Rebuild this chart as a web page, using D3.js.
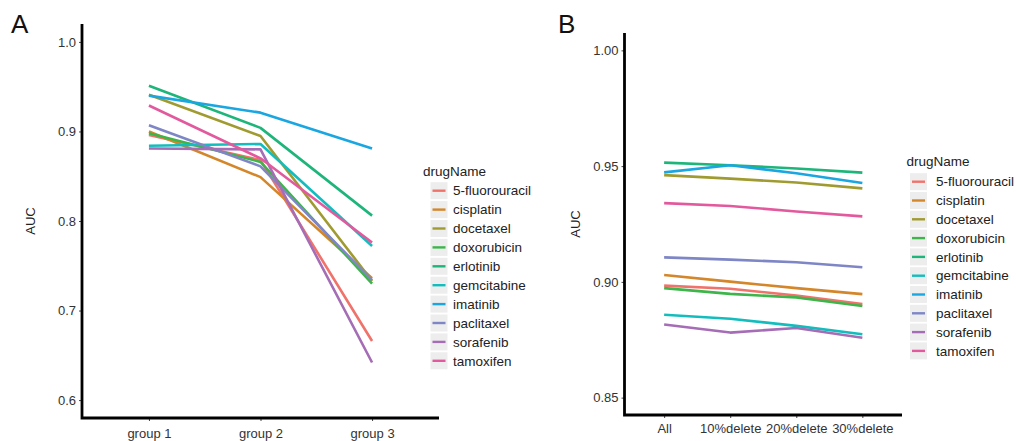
<!DOCTYPE html>
<html>
<head>
<meta charset="utf-8">
<script src="https://cdn.jsdelivr.net/npm/d3@7"></script>
<style>
  body { margin: 0; background: #fff; }
  text { font-family: "Liberation Sans", Arial, sans-serif; fill: #222; }
</style>
</head>
<body>
<div id="chart"></div>
<script>
const drugs = ["5-fluorouracil", "cisplatin", "docetaxel", "doxorubicin", "erlotinib",
  "gemcitabine", "imatinib", "paclitaxel", "sorafenib", "tamoxifen"]
const colors = ["#F0736B", "#D4862A", "#A09B30", "#3DB54A", "#1DB57A",
  "#14BDBD", "#1AA6E0", "#7E86C6", "#A56DB5", "#E25A9D"]

// panel A
const groupsA = ["group 1", "group 2", "group 3"]
const ticksA = [0.6, 0.7, 0.8, 0.9, 1.0]
const aucA = [
  [0.896, 0.868, 0.666],  // 5-fluorouracil
  [0.900, 0.849, 0.736],  // cisplatin
  [0.941, 0.895, 0.733],  // docetaxel
  [0.898, 0.866, 0.730],  // doxorubicin
  [0.951, 0.904, 0.806],  // erlotinib
  [0.884, 0.886, 0.772],  // gemcitabine
  [0.940, 0.921, 0.881],  // imatinib
  [0.907, 0.861, 0.734],  // paclitaxel
  [0.881, 0.880, 0.642],  // sorafenib
  [0.929, 0.870, 0.776]   // tamoxifen
]

// panel B
const groupsB = ["All", "10%delete", "20%delete", "30%delete"]
const ticksB = [0.85, 0.90, 0.95, 1.00]
const aucB = [
  [0.8984, 0.8970, 0.8941, 0.8904],
  [0.9030, 0.9001, 0.8973, 0.8947],
  [0.9461, 0.9446, 0.9429, 0.9404],
  [0.8973, 0.8948, 0.8933, 0.8896],
  [0.9515, 0.9504, 0.9490, 0.9472],
  [0.8858, 0.8841, 0.8810, 0.8774],
  [0.9473, 0.9504, 0.9469, 0.9427],
  [0.9106, 0.9096, 0.9085, 0.9063],
  [0.8816, 0.8781, 0.8801, 0.8759],
  [0.9340, 0.9328, 0.9304, 0.9283]
]

const svg = d3.select("#chart").append("svg")
  .attr("width", 1016)
  .attr("height", 441)

const color = d3.scaleOrdinal(drugs, colors)

function panel(opts) {
  const {groups, values, ticks, domain, left, right, top, bottom, fmt, letter, legend} = opts
  const g = svg.append("g")

  const x = d3.scalePoint(groups, [left, right]).padding(0.6)
  const y = d3.scaleLinear(domain, [bottom, top])

  // panel letter
  g.append("text")
    .attr("x", letter.x).attr("y", letter.y)
    .attr("font-size", 26)
    .style("fill", "#111")
    .text(letter.text)

  // y axis
  const yAxis = g.append("g")
    .attr("transform", `translate(${left},0)`)
    .call(d3.axisLeft(y).tickValues(ticks).tickFormat(d3.format(fmt)).tickSize(3).tickPadding(3))
  yAxis.select(".domain").remove()
  yAxis.selectAll(".tick line").attr("stroke", "#444")
  yAxis.selectAll(".tick text").attr("font-size", 13).style("fill", "#333")
    .attr("font-family", "Liberation Sans, Arial, sans-serif")

  // x axis
  const xAxis = g.append("g")
    .attr("transform", `translate(0,${bottom})`)
    .call(d3.axisBottom(x).tickSize(3).tickPadding(opts.xPad))
  xAxis.select(".domain").remove()
  xAxis.selectAll(".tick line").attr("stroke", "#444")
  xAxis.selectAll(".tick text").attr("font-size", 13).style("fill", "#333")
    .attr("font-family", "Liberation Sans, Arial, sans-serif")

  // L-shaped axis lines
  g.append("path")
    .attr("d", `M${left},${top}V${bottom}H${right}`)
    .attr("fill", "none")
    .attr("stroke", "#000")
    .attr("stroke-width", 2.8)

  // y title
  g.append("text")
    .attr("transform", `translate(${opts.ytitleX},${(top + bottom) / 2}) rotate(-90)`)
    .attr("text-anchor", "middle")
    .attr("font-size", 13)
    .text("AUC")

  const line = d3.line()
    .x((d, i) => x(groups[i]))
    .y(d => y(d))

  g.append("g")
    .selectAll("path")
    .data(values)
    .join("path")
      .attr("fill", "none")
      .attr("stroke", (d, i) => color(drugs[i]))
      .attr("stroke-width", 2.6)
      .attr("stroke-linejoin", "round")
      .attr("d", line)

  // legend
  const lg = g.append("g")
  lg.append("text")
    .attr("x", legend.x).attr("y", legend.y)
    .attr("font-size", 13.5)
    .text("drugName")
  const item = lg.selectAll("g.item")
    .data(drugs)
    .join("g")
      .attr("class", "item")
      .attr("transform", (d, i) => `translate(${legend.keyX},${legend.y0 + i * legend.step})`)
  item.append("rect")
    .attr("x", 0).attr("y", -8.5)
    .attr("width", 17).attr("height", 17)
    .attr("fill", "#ededed")
  item.append("line")
    .attr("x1", 2).attr("x2", 15)
    .attr("stroke", d => color(d))
    .attr("stroke-width", 2.4)
  item.append("text")
    .attr("x", legend.labelX - legend.keyX)
    .attr("dy", "0.35em")
    .attr("font-size", 13.5)
    .text(d => d)
}

panel({
  groups: groupsA, values: aucA, ticks: ticksA, domain: [0.58, 1.02],
  left: 82, right: 439, top: 24, bottom: 418, fmt: ".1f", xPad: 8,
  letter: {x: 11, y: 33, text: "A"}, ytitleX: 35,
  legend: {x: 423, y: 176, y0: 190.7, step: 18.9, keyX: 430.5, labelX: 453}
})

panel({
  groups: groupsB, values: aucB, ticks: ticksB, domain: [0.8425, 1.0075],
  left: 624.5, right: 902, top: 33, bottom: 415, fmt: ".2f", xPad: 6,
  letter: {x: 558, y: 33, text: "B"}, ytitleX: 580,
  legend: {x: 906.5, y: 165.5, y0: 181.7, step: 18.8, keyX: 910, labelX: 936}
})
</script>
</body>
</html>
